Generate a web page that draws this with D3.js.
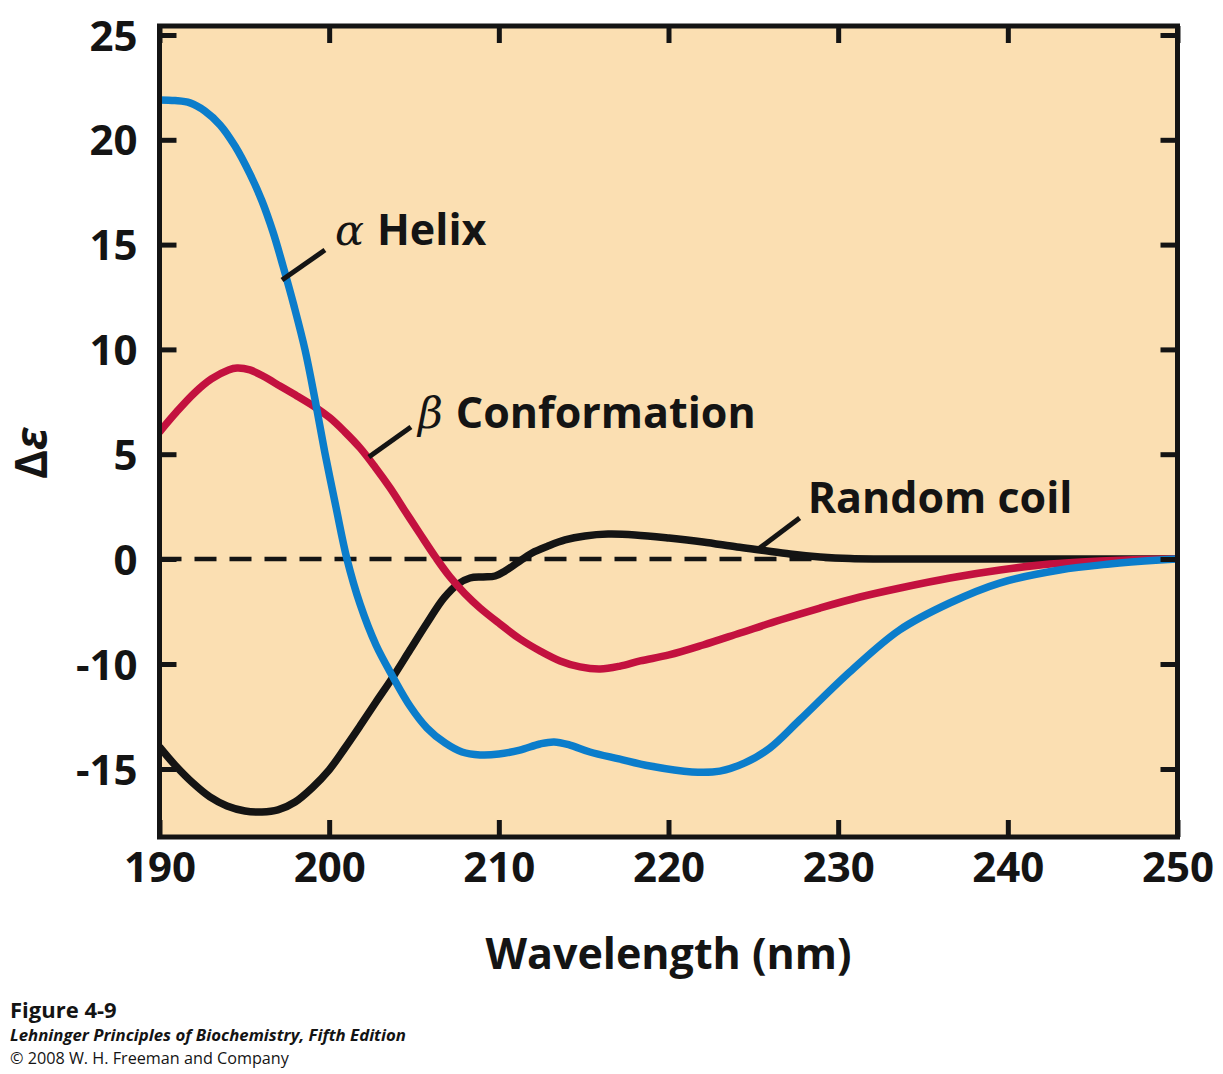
<!DOCTYPE html>
<html>
<head>
<meta charset="utf-8">
<script src="https://cdn.jsdelivr.net/npm/d3@7"></script>
<style>
  html, body { margin: 0; padding: 0; background: #ffffff; }
  svg { display: block; }
  text { font-family: "Open Sans", "Noto Sans", sans-serif; fill: #141414; }
</style>
</head>
<body>
<svg id="chart" width="1223" height="1074"></svg>
<script>
// ---------- data ----------
const helixWl  = [190, 190.91, 191.80, 192.68, 193.57, 194.45, 195.33, 196.04, 196.69, 197.28, 197.93, 198.58, 199.17, 199.75, 200.40, 201.05, 201.82, 202.76, 203.76, 204.76, 205.77, 206.83, 207.83, 208.89, 210.0, 211.24, 212.42, 213.25, 214.19, 215.37, 217.08, 218.91, 221.38, 223.03, 224.5, 225.98, 227.73, 230.68, 233.62, 236.57, 239.51, 243.05, 246.0, 248.94, 250];
const helixVal = [21.9, 21.87, 21.76, 21.37, 20.71, 19.70, 18.37, 17.08, 15.60, 13.98, 12.07, 9.97, 7.59, 5.06, 2.48, 0, -4.29, -8.19, -10.62, -12.0, -13.05, -13.76, -14.19, -14.33, -14.29, -14.1, -13.81, -13.71, -13.86, -14.19, -14.52, -14.86, -15.14, -15.1, -14.71, -14.0, -12.67, -10.38, -6.76, -4.19, -2.29, -1.05, -0.48, -0.1, 0];

const betaWl  = [190, 191.0, 192.06, 193.06, 194.07, 194.57, 195.33, 196.21, 197.10, 198.10, 199.17, 200.05, 200.93, 201.82, 202.70, 203.59, 204.47, 205.36, 206.30, 207.12, 208.01, 208.89, 210.07, 211.25, 212.43, 213.61, 214.79, 215.97, 217.15, 218.33, 220.03, 222.04, 224.22, 226.58, 228.93, 231.29, 233.65, 236.59, 239.54, 242.49, 245.44, 247.80, 250];
const betaVal = [6.06, 7.01, 7.92, 8.59, 9.02, 9.11, 9.02, 8.68, 8.25, 7.78, 7.25, 6.73, 6.06, 5.30, 4.39, 3.39, 2.29, 1.19, 0.05, -1.71, -3.33, -4.67, -6.19, -7.62, -8.76, -9.71, -10.14, -10.24, -10.10, -9.71, -9.14, -8.19, -7.05, -5.81, -4.67, -3.62, -2.76, -1.81, -1.05, -0.48, -0.19, -0.05, 0];

const coilWl  = [190, 190.91, 191.97, 192.97, 193.98, 195.04, 196.04, 196.98, 197.99, 198.99, 199.99, 200.93, 201.82, 202.76, 203.76, 204.76, 205.77, 206.77, 207.60, 208.30, 209.07, 209.78, 210.37, 211.07, 211.96, 212.90, 213.90, 215.08, 216.44, 218.03, 220.03, 222.04, 224.04, 225.40, 227.17, 228.94, 230.70, 232.47, 240, 250];
const coilVal = [-13.95, -14.81, -15.67, -16.33, -16.76, -17.0, -17.05, -16.95, -16.57, -15.90, -15.05, -14.0, -12.95, -11.81, -10.62, -8.67, -6.10, -3.71, -2.38, -1.81, -1.71, -1.62, -1.14, -0.38, 0.29, 0.62, 0.91, 1.10, 1.19, 1.15, 1.00, 0.81, 0.57, 0.43, 0.24, 0.10, 0.02, 0, 0, 0];

const xTicks = [190, 200, 210, 220, 230, 240, 250];
const yTicks = [25, 20, 15, 10, 5, 0, -10, -15];   // as printed on the original axis

const seriesNames  = ["α Helix", "β Conformation", "Random coil"];
const seriesColors = ["#0b7dcb", "#c3113f", "#141414"];

// annotation leader lines: [wl0, val0, wl1, val1] and label anchors [wl, val]
const leaderLines = [[197.22, 13.31, 199.75, 14.74], [202.34, 4.87, 204.82, 6.30], [225.37, 0.52, 227.73, 1.96]];
const labelAnchors = [[200.34, 14.98], [205.23, 6.25], [228.2, 2.19]];

// ---------- layout ----------
const svg = d3.select("#chart");
const pLeft = 159.5, pRight = 1177.5, pTop = 26, pBottom = 837;

const x = d3.scaleLinear().domain([190, 250]).range([pLeft, pRight]);
// the printed axis is piecewise: 0 -> -10 spans one tick gap
const y = d3.scaleLinear().domain([-15, -10, 0, 25]).range([769, 664, 559, 35]);

// background
svg.append("rect").attr("x", pLeft).attr("y", pTop)
  .attr("width", pRight - pLeft).attr("height", pBottom - pTop)
  .attr("fill", "#fbdfb2");

// clip
svg.append("clipPath").attr("id", "plotclip").append("rect")
  .attr("x", pLeft).attr("y", pTop).attr("width", pRight - pLeft).attr("height", pBottom - pTop);

// zero dashed line
svg.append("line")
  .attr("x1", x(190)).attr("x2", x(250)).attr("y1", y(0)).attr("y2", y(0))
  .attr("stroke", "#141414").attr("stroke-width", 4.5)
  .attr("stroke-dasharray", "22,13");

const line = d3.line().x(d => x(d[0])).y(d => y(d[1])).curve(d3.curveCatmullRom.alpha(0.5));
const seriesData = [
  d3.zip(helixWl, helixVal),
  d3.zip(betaWl, betaVal),
  d3.zip(coilWl, coilVal)
];

const gLines = svg.append("g").attr("clip-path", "url(#plotclip)");
[2, 1, 0].forEach(i => {
  gLines.append("path")
    .attr("d", line(seriesData[i]))
    .attr("fill", "none")
    .attr("stroke", seriesColors[i])
    .attr("stroke-width", 7.5)
    .attr("stroke-linejoin", "round");
});

// leader lines
leaderLines.forEach(l => {
  svg.append("line")
    .attr("x1", x(l[0])).attr("y1", y(l[1]))
    .attr("x2", x(l[2])).attr("y2", y(l[3]))
    .attr("stroke", "#141414").attr("stroke-width", 5);
});

// labels
labelAnchors.forEach((a, i) => {
  const t = svg.append("text")
    .attr("x", x(a[0])).attr("y", y(a[1]))
    .attr("font-size", 43).attr("font-weight", 700);
  const name = seriesNames[i];
  if (name.startsWith("α") || name.startsWith("β")) {
    t.append("tspan").attr("font-style", "italic").attr("font-family", "'DejaVu Serif', serif")
      .attr("font-weight", 400).text(name[0]);
    t.append("tspan").attr("dx", 13).text(name.slice(2));
  } else {
    t.text(name);
  }
});

// axes: ticks inward on all four sides
const tickLen = 17;
const fmt = d => String(d);
const axB = svg.append("g").attr("transform", `translate(0,${pBottom})`)
  .call(d3.axisBottom(x).tickValues(xTicks).tickSizeInner(-tickLen).tickSizeOuter(0).tickPadding(15).tickFormat(fmt));
const axT = svg.append("g").attr("transform", `translate(0,${pTop})`)
  .call(d3.axisTop(x).tickValues(xTicks).tickSizeInner(-tickLen).tickSizeOuter(0).tickFormat(""));
const axL = svg.append("g").attr("transform", `translate(${pLeft},0)`)
  .call(d3.axisLeft(y).tickValues(yTicks).tickSizeInner(-tickLen).tickSizeOuter(0).tickPadding(22).tickFormat(fmt));
const axR = svg.append("g").attr("transform", `translate(${pRight},0)`)
  .call(d3.axisRight(y).tickValues(yTicks).tickSizeInner(-tickLen).tickSizeOuter(0).tickFormat(""));

[axB, axT, axL, axR].forEach(g => {
  g.select(".domain").remove();
  g.selectAll(".tick line").attr("stroke", "#141414").attr("stroke-width", 5);
  g.selectAll(".tick text")
    .attr("font-family", "'Open Sans', sans-serif")
    .attr("font-size", 42).attr("font-weight", 700).attr("fill", "#141414");
});
axL.selectAll(".tick text").attr("dy", "0.36em");

// frame
svg.append("rect").attr("x", pLeft).attr("y", pTop)
  .attr("width", pRight - pLeft).attr("height", pBottom - pTop)
  .attr("fill", "none").attr("stroke", "#141414").attr("stroke-width", 5);

// axis titles
svg.append("text")
  .attr("x", (x(190) + x(250)) / 2).attr("y", 969)
  .attr("text-anchor", "middle").attr("font-size", 43).attr("font-weight", 700)
  .text("Wavelength (nm)");

const yt = svg.append("text")
  .attr("transform", `translate(47,${y(5) - 1}) rotate(-90)`)
  .attr("text-anchor", "middle").attr("font-size", 44).attr("font-weight", 700);
yt.append("tspan").text("Δ");
yt.append("tspan").attr("font-style", "italic").text("ε");

// footer
svg.append("text").attr("x", 10).attr("y", 1018)
  .attr("font-size", 22).attr("font-weight", 700).text("Figure 4-9");
svg.append("text").attr("x", 10).attr("y", 1041)
  .attr("font-size", 16.8).attr("font-weight", 700).attr("font-style", "italic")
  .text("Lehninger Principles of Biochemistry, Fifth Edition");
svg.append("text").attr("x", 10).attr("y", 1064)
  .attr("font-size", 16.2).attr("font-weight", 400)
  .text("© 2008 W. H. Freeman and Company");
</script>
</body>
</html>
